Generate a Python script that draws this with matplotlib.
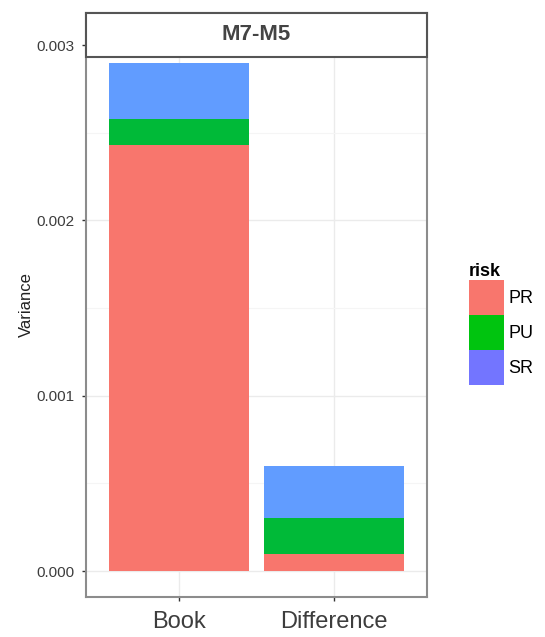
import numpy as np
import matplotlib.pyplot as plt
from matplotlib.patches import Rectangle, Patch

plt.rcParams['font.family'] = ['Liberation Sans', 'DejaVu Sans']

# data
groups = ['Book', 'Difference']
risks = ['PR', 'PU', 'SR']
pr = [0.00243, 0.00010]
pu = [0.00015, 0.00020]
sr = [0.00032, 0.00030]

bar_cols = ['#F8766D', '#00BA38', '#619CFF']
key_cols = ['#F8766D', '#00C40F', '#7375FF']

W, H = 545, 637
fig = plt.figure(figsize=(W / 100, H / 100), dpi=100)

# panel incl. strip area, in pixel coords
left, right, top, bottom = 86, 427, 13, 597
ax = fig.add_axes([left / W, 1 - bottom / H, (right - left) / W, (bottom - top) / H])

x = np.arange(1, len(groups) + 1)
base = np.zeros(len(groups))
for vals, c in zip([pr, pu, sr], bar_cols):
    ax.bar(x, vals, width=0.9, bottom=base, color=c, zorder=3)
    base = base + np.array(vals)

ax.set_xlim(0.4, 2.6)
ax.set_ylim(-0.000148, 0.003183)
ax.set_xticks(x)
ax.set_xticklabels(groups, fontsize=17, color='#3D3D3D')
ax.set_yticks([0, 0.001, 0.002, 0.003])
ax.set_yticklabels(['0.000', '0.001', '0.002', '0.003'], fontsize=11, color='#3D3D3D')
ax.set_yticks([0.0005, 0.0015, 0.0025], minor=True)
ax.grid(True, which='major', color='#EBEBEB', lw=1.0, zorder=0)
ax.grid(True, which='minor', axis='y', color='#F5F5F5', lw=0.8, zorder=0)
ax.tick_params(axis='both', which='major', length=3, color='#333333', width=1)
ax.tick_params(axis='x', pad=7)
ax.tick_params(axis='y', pad=5)
ax.tick_params(axis='y', which='minor', length=0)
for s in ax.spines.values():
    s.set_color('#8C8C8C')
    s.set_linewidth(1.5)
ax.set_ylabel('Variance', fontsize=12, color='#222222', labelpad=2)

# facet strip on top of the panel
strip_h = (57 - top) / (bottom - top)
ax.add_patch(Rectangle((0, 1 - strip_h), 1, strip_h, transform=ax.transAxes,
                       facecolor='white', edgecolor='#555555', lw=1.5, zorder=10,
                       clip_on=False))
ax.text(0.5, 1 - strip_h / 2, 'M7-M5', transform=ax.transAxes, ha='center',
        va='center', fontsize=16, fontweight='bold', color='#444444', zorder=11)

handles = [Patch(facecolor=c, edgecolor='none') for c in key_cols]
fig.legend(handles, risks, title='risk', loc='upper left',
           bbox_to_anchor=(462 / W, 1 - 256 / H), frameon=False,
           fontsize=13, title_fontproperties={'weight': 'bold', 'size': 13},
           alignment='left',
           handlelength=1.95, handleheight=2.6, handletextpad=0.2,
           labelspacing=0.0, borderaxespad=0)

fig.savefig('out.png', dpi=100, facecolor='white')
